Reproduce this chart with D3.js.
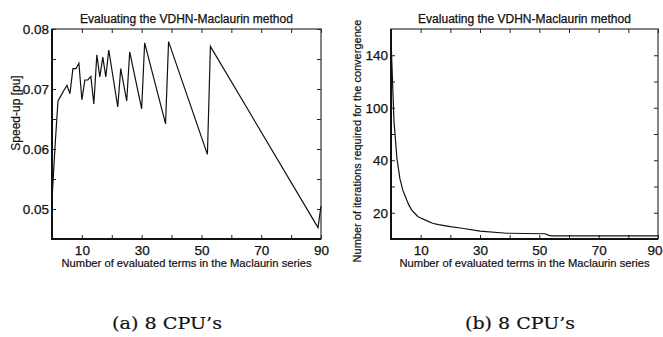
<!DOCTYPE html>
<html>
<head>
<meta charset="utf-8">
<script src="https://cdnjs.cloudflare.com/ajax/libs/d3/7.8.5/d3.min.js"></script>
<style>
  body { margin: 0; background: #fff; }
  text { font-family: "Liberation Sans", Arial, Helvetica, sans-serif; fill: #111; }
  .caption { font-family: "DejaVu Serif", "Liberation Serif", serif; }
</style>
</head>
<body>
<svg id="chart" width="663" height="337"></svg>
<script>
// shared x axis
const xTickValues = [10, 20, 30, 40, 50, 60, 70, 80, 90];
const xTickLabels = [10, 30, 50, 70, 90];

// (a) speed-up vs number of terms
const speedupTerms = [0, 1, 2, 3, 4, 5, 6, 7, 8, 9, 10, 11, 12, 13, 14, 15, 16, 17, 18, 19,
  22, 23, 25, 26, 30, 31, 38, 39, 52, 53, 89, 90];
const speedupValues = [0.0515, 0.0603, 0.0680, 0.0689, 0.0698, 0.0706, 0.0692, 0.0734, 0.0734,
  0.0743, 0.0682, 0.0715, 0.0715, 0.0721, 0.0675, 0.0757, 0.0720, 0.0753, 0.0720, 0.0765,
  0.0670, 0.0734, 0.0680, 0.0762, 0.0667, 0.0777, 0.0642, 0.0779, 0.0591, 0.0771, 0.0469, 0.0505];
const speedupTicks = [0.05, 0.055, 0.06, 0.065, 0.07, 0.075, 0.08];
const speedupTickLabels = [0.05, 0.06, 0.07, 0.08];

// (b) iterations vs number of terms (axis labels as printed, uneven steps)
const iterTerms = [0, 1, 2, 3, 4, 5, 6, 7, 8, 9, 10, 12, 14, 16, 20, 24, 30, 39, 52, 53, 54, 90];
const iterValues = [152, 85, 42, 33, 28.5, 25.7, 23, 21, 19.8, 18.6, 18, 17, 16, 15.5, 14.7,
  14.1, 13, 12.2, 12, 11.5, 11.2, 11.2];
const iterBreaks = [10, 20, 30, 40, 70, 100, 120, 140, 160];
const iterTicks = [20, 30, 40, 70, 100, 120, 140];
const iterTickLabels = [20, 40, 100, 140];

const title = 'Evaluating the VDHN-Maclaurin method';
const xLabel = 'Number of evaluated terms in the Maclaurin series';

const svg = d3.select('#chart');

function drawPanel(opts) {
  const w = opts.width, h = opts.height;
  const g = svg.append('g').attr('transform', `translate(${opts.left},${opts.top})`);

  const x = d3.scaleLinear().domain([0, 90]).range([0, w]);
  const y = opts.yScale(h);

  const xFmt = d => xTickLabels.includes(d) ? String(d) : '';
  const yFmt = d => opts.yLabels.includes(d) ? opts.yFormat(d) : '';

  const bottom = g.append('g').attr('transform', `translate(0,${h})`)
    .call(d3.axisBottom(x).tickValues(xTickValues).tickSize(-4).tickPadding(6).tickFormat(xFmt));
  g.append('g')
    .call(d3.axisTop(x).tickValues(xTickValues).tickSize(-4).tickFormat(''));
  const left = g.append('g')
    .call(d3.axisLeft(y).tickValues(opts.yTicks).tickSize(-4).tickPadding(3).tickFormat(yFmt));
  g.append('g').attr('transform', `translate(${w},0)`)
    .call(d3.axisRight(y).tickValues(opts.yTicks).tickSize(-4).tickFormat(''));

  g.selectAll('.domain').remove();
  g.selectAll('.tick line').attr('stroke', '#222').attr('stroke-width', 1);
  g.selectAll('.tick text').attr('font-size', 13.5).attr('fill', '#111')
    .attr('stroke', '#111').attr('stroke-width', 0.25);
  if (opts.lastLabelEnd) {
    bottom.selectAll('.tick text').filter(d => d === 90)
      .attr('text-anchor', 'end').attr('x', 4);
  }

  // frame
  g.append('rect').attr('width', w).attr('height', h)
    .attr('fill', 'none').attr('stroke', '#333').attr('stroke-width', 1.2);
  g.append('path')
    .attr('d', `M0,0V${h}H${w}`)
    .attr('fill', 'none').attr('stroke', '#111').attr('stroke-width', 2);

  const line = d3.line().x(d => x(d[0])).y(d => y(d[1]));
  g.append('path')
    .datum(d3.zip(opts.xs, opts.ys))
    .attr('d', line)
    .attr('fill', 'none').attr('stroke', '#111').attr('stroke-width', 1.2);

  g.append('text')
    .attr('x', w / 2).attr('y', -6)
    .attr('text-anchor', 'middle').attr('font-size', 12)
    .attr('stroke', '#111').attr('stroke-width', 0.25)
    .text(title);

  g.append('text')
    .attr('x', w / 2).attr('y', h + 28)
    .attr('text-anchor', 'middle').attr('font-size', 11.2)
    .attr('stroke', '#111').attr('stroke-width', 0.2)
    .text(xLabel);

  g.append('text')
    .attr('transform', `translate(${opts.yLabelX},${opts.yLabelY}) rotate(-90)`)
    .attr('text-anchor', 'middle').attr('dy', '0.35em')
    .attr('font-size', opts.yLabelSize)
    .attr('stroke', '#111').attr('stroke-width', 0.2)
    .text(opts.yLabel);

  svg.append('text')
    .attr('class', 'caption')
    .attr('x', opts.captionX - 55).attr('y', 329)
    .attr('font-size', 17.5)
    .attr('textLength', 110).attr('lengthAdjust', 'spacingAndGlyphs')
    .attr('stroke', '#111').attr('stroke-width', 0.2)
    .text(opts.caption);
}

drawPanel({
  left: 52, top: 29, width: 269, height: 210,
  xs: speedupTerms, ys: speedupValues,
  yScale: h => d3.scaleLinear().domain([0.045, 0.08]).range([h, 0]),
  yTicks: speedupTicks, yLabels: speedupTickLabels,
  yFormat: d3.format('.2f'),
  yLabel: 'Speed-up [pu]', yLabelX: -36, yLabelY: 84, yLabelSize: 12,
  caption: '(a) 8 CPU\u2019s', captionX: 167
});

drawPanel({
  left: 391, top: 29, width: 267, height: 210,
  xs: iterTerms, ys: iterValues,
  yScale: h => d3.scaleLinear().domain(iterBreaks)
    .range(iterBreaks.map((d, i) => h - i * h / (iterBreaks.length - 1))),
  yTicks: iterTicks, yLabels: iterTickLabels,
  yFormat: d3.format('d'),
  yLabel: 'Number of iterations required for the convergence', yLabelX: -34, yLabelY: 112, yLabelSize: 11,
  caption: '(b) 8 CPU\u2019s', captionX: 520, lastLabelEnd: true
});
</script>
</body>
</html>
